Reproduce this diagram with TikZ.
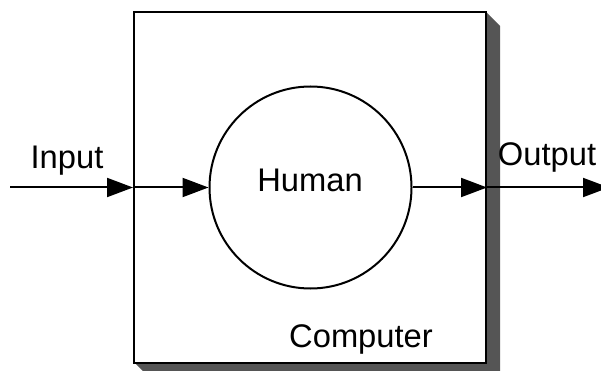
\documentclass[tikz,border=0pt]{standalone}
\usepackage{fontspec}
\setmainfont{Liberation Sans}
\usetikzlibrary{arrows.meta}
\definecolor{shadowgray}{RGB}{85,85,85}
\tikzset{
  unit/.style={x=1pt,y=-1pt},
  boxframe/.style={draw=black,line width=2pt,fill=white,rectangle,inner sep=0pt,
    minimum width=352pt,minimum height=350pt},
  ring/.style={draw=black,line width=2pt,circle,inner sep=0pt,minimum size=202pt},
  flow/.style={line width=2pt,-{Triangle[length=26pt,width=19pt]}},
  label/.style={font=\fontsize{32.7pt}{36pt}\selectfont,anchor=base,inner sep=0pt}
}
\begin{document}
\begin{tikzpicture}[unit]
  \useasboundingbox (0,0) rectangle (601,371);
  \begin{scope}
    \clip (0,0) rectangle (601,371);
    % drop shadow behind the outer box
    \fill[shadowgray] (486,12) -- (500,26) -- (500,376) -- (148,376) -- (134,362) -- cycle;
    % outer box and inner circle
    \node[boxframe] (comp) at (310,187.5) {};
    \node[ring] (human) at (310.5,187.5) {};
    % connector end points
    \coordinate (in) at (10,187.5);
    \coordinate (out) at (609,187.5);
    % flow arrows
    \draw[flow] (in) -- (comp.west);
    \draw[flow] (comp.west) -- (human.west);
    \draw[flow] (human.east) -- (comp.east);
    \draw[flow] (comp.east) -- (out);
  \end{scope}
  % labels
  \node[label] (lin) at (67,169) {Input};
  \node[label] (lout) at (547,166) {Output};
  \node[label] (lhum) at (310,192) {Human};
  \node[label] (lcomp) at (361,347) {Computer};
\end{tikzpicture}
\end{document}
